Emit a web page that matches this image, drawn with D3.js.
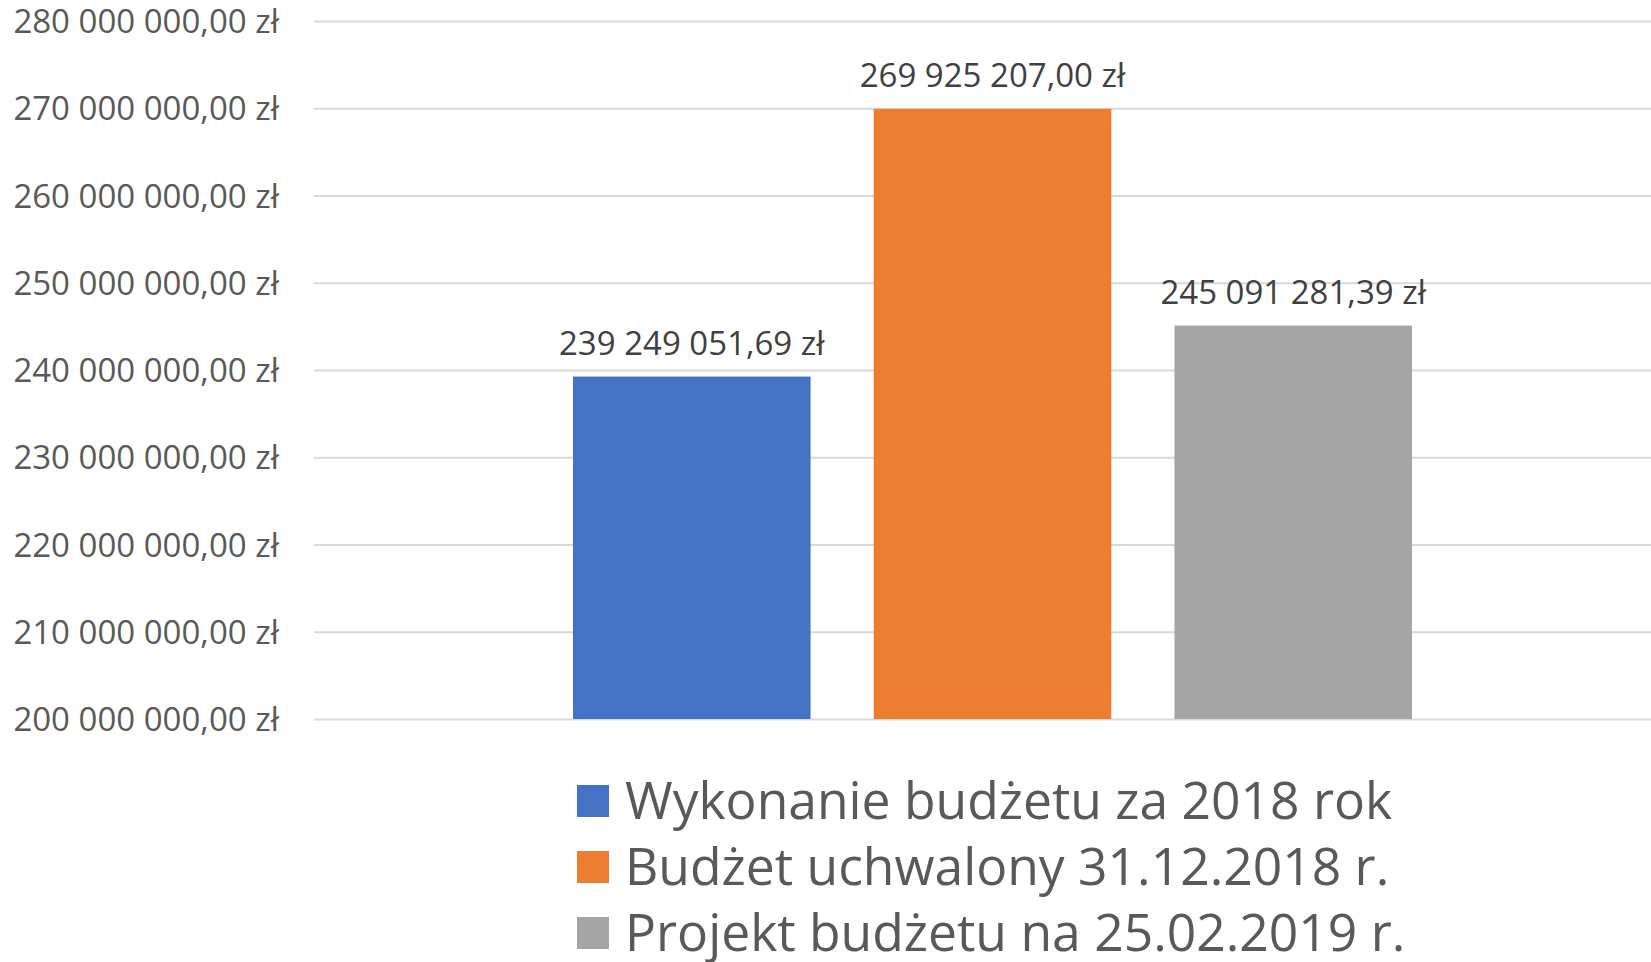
<!DOCTYPE html>
<html>
<head>
<meta charset="utf-8">
<script src="https://cdn.jsdelivr.net/npm/d3@7"></script>
<style>
  html, body { margin: 0; padding: 0; background: #ffffff; }
  svg { display: block; }
  text { font-family: "Open Sans", sans-serif; }
</style>
</head>
<body>
<svg id="chart" width="1651" height="962"></svg>
<script>
// ---- data ----
const seriesNames = [
  "Wykonanie budżetu za 2018 rok",
  "Budżet uchwalony 31.12.2018 r.",
  "Projekt budżetu na 25.02.2019 r."
];
const seriesValues = [239249051.69, 269925207.00, 245091281.39];
const seriesColors = ["#4472C4", "#ED7D31", "#A5A5A5"];
const tickValues = [200000000, 210000000, 220000000, 230000000, 240000000,
                    250000000, 260000000, 270000000, 280000000];

// ---- layout ----
const W = 1651, H = 962;
const plotLeft = 314, plotRight = 1651, plotTop = 21, plotBottom = 719;
const barsLeft = 573, barsRight = 1412;

const svg = d3.select("#chart");

const pl = d3.formatLocale({decimal: ",", thousands: " ", grouping: [3], currency: ["", " zł"]});
const fmt = v => pl.format(",.2f")(v) + " zł";

const y = d3.scaleLinear().domain([tickValues[0], tickValues[tickValues.length - 1]])
  .range([plotBottom, plotTop]);
const x = d3.scaleBand().domain(seriesNames).range([barsLeft, barsRight])
  .paddingInner(0.21).paddingOuter(0);

// gridlines
const grid = svg.append("g")
  .attr("transform", `translate(${plotLeft},0)`)
  .call(d3.axisLeft(y).tickValues(tickValues).tickSize(-(plotRight - plotLeft)).tickFormat(""));
grid.select(".domain").remove();
grid.selectAll(".tick line").attr("stroke", "#d9d9d9").attr("stroke-width", 2);

// axis labels
const axis = svg.append("g")
  .attr("transform", `translate(279,0)`)
  .call(d3.axisLeft(y).tickValues(tickValues).tickSize(0).tickPadding(0).tickFormat(fmt));
axis.select(".domain").remove();
axis.selectAll(".tick text")
  .attr("fill", "#595959")
  .style("font-size", "33px")
  .style("font-family", "'Open Sans', sans-serif")
  .attr("dy", "0.35em");

// bars
svg.append("g").selectAll("rect")
  .data(seriesNames)
  .join("rect")
  .attr("x", d => x(d))
  .attr("width", x.bandwidth())
  .attr("y", (d, i) => y(seriesValues[i]))
  .attr("height", (d, i) => plotBottom - y(seriesValues[i]))
  .attr("fill", (d, i) => seriesColors[i]);

// data labels
svg.append("g").selectAll("text")
  .data(seriesNames)
  .join("text")
  .attr("x", d => x(d) + x.bandwidth() / 2)
  .attr("y", (d, i) => y(seriesValues[i]) - 33)
  .attr("dy", "0.35em")
  .attr("text-anchor", "middle")
  .attr("fill", "#404040")
  .style("font-size", "33px")
  .text((d, i) => fmt(seriesValues[i]));

// legend
const legendX = 577, legendY0 = 801, legendStep = 66, sq = 32;
const lg = svg.append("g").selectAll("g")
  .data(seriesNames)
  .join("g")
  .attr("transform", (d, i) => `translate(${legendX},${legendY0 + i * legendStep})`);
lg.append("rect")
  .attr("x", 0).attr("y", -sq / 2)
  .attr("width", sq).attr("height", sq)
  .attr("fill", (d, i) => seriesColors[i]);
lg.append("text")
  .attr("x", 48)
  .attr("y", 0)
  .attr("dy", "0.35em")
  .attr("fill", "#595959")
  .style("font-size", "51.6px")
  .text(d => d);
</script>
</body>
</html>
